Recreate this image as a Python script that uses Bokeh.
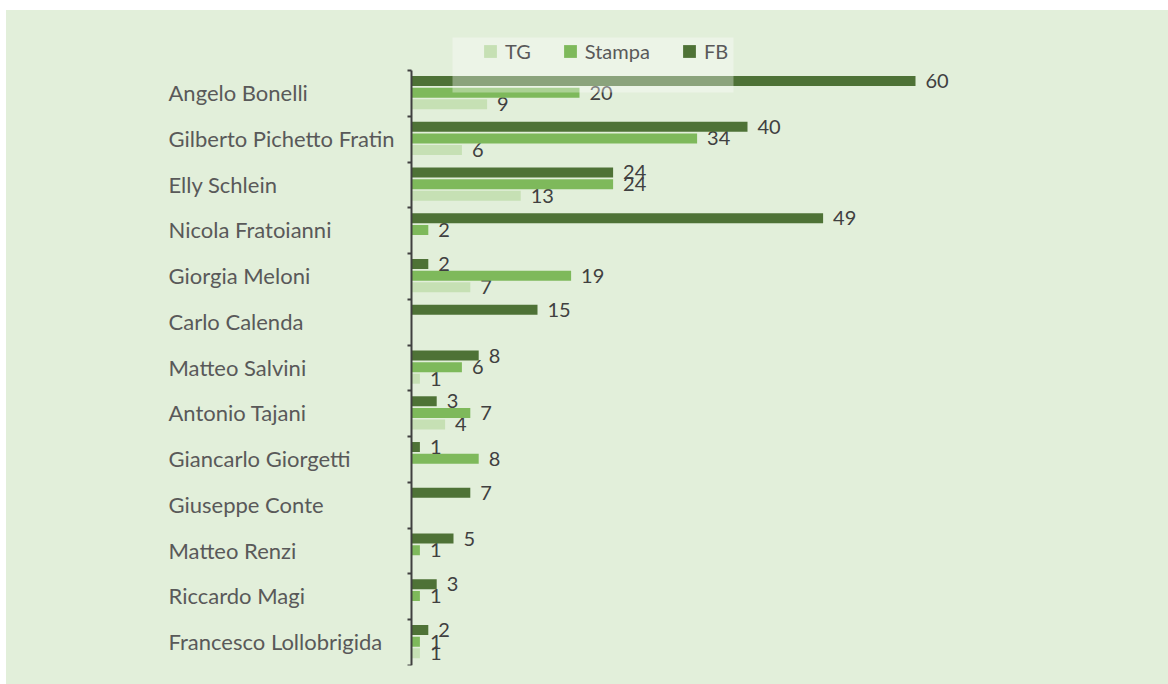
from bokeh.plotting import figure
from bokeh.models import ColumnDataSource, Range1d, FixedTicker, Legend, LegendItem, BoxAnnotation
from bokeh.transform import dodge
from bokeh.core.properties import value
from bokeh.embed import file_html
from bokeh.resources import INLINE

names = ["Angelo Bonelli", "Gilberto Pichetto Fratin", "Elly Schlein", "Nicola Fratoianni",
         "Giorgia Meloni", "Carlo Calenda", "Matteo Salvini", "Antonio Tajani",
         "Giancarlo Giorgetti", "Giuseppe Conte", "Matteo Renzi", "Riccardo Magi",
         "Francesco Lollobrigida"]
fb = [60, 40, 24, 49, 2, 15, 8, 3, 1, 7, 5, 3, 2]
stampa = [20, 34, 24, 2, 19, 0, 6, 7, 8, 0, 1, 1, 1]
tg = [9, 6, 13, 0, 7, 0, 1, 4, 0, 0, 0, 0, 1]

FONT = "Lato"
BG = "#E2EFDA"
COLORS = {"TG": "#C6E0B4", "Stampa": "#7EB95B", "FB": "#4E7236"}
OFFS = {"FB": -0.275, "Stampa": -0.02, "TG": 0.232}

n = len(names)
pos = [i + 0.5 for i in range(n)]
PX = 8.4  # pixels per unit on x
LEFT = 150  # frame left in figure px
AXIS_X = 405  # x=0 in figure px

p = figure(width=1162, height=674, output_backend="svg", toolbar_location=None,
           x_range=Range1d(-(AXIS_X - LEFT) / PX, 80), y_range=Range1d(n, -0.9),
           min_border_left=LEFT, min_border_right=85, min_border_top=19, min_border_bottom=19)
p.margin = (10, 0, 0, 6)
p.styles = {"background-color": BG}
p.background_fill_color = BG
p.border_fill_color = BG
p.outline_line_color = None
p.grid.visible = False
p.xaxis.visible = False

series = [("TG", tg), ("Stampa", stampa), ("FB", fb)]
renderers = {}
for key, vals in series:
    src = ColumnDataSource(dict(pos=pos, v=vals))
    r = p.hbar(y=dodge("pos", OFFS[key], range=p.y_range), right="v", left=0, height=0.218,
               source=src, fill_color=COLORS[key], line_color=None)
    renderers[key] = r
    lab = ColumnDataSource(dict(pos=[pp for pp, vv in zip(pos, vals) if vv != 0],
                                v=[vv for vv in vals if vv != 0],
                                t=[str(vv) for vv in vals if vv != 0]))
    p.text(x="v", y=dodge("pos", OFFS[key], range=p.y_range), text="t", source=lab,
           x_offset=10, y_offset=0, text_align="left", text_baseline="middle",
           text_font=value(FONT), text_font_size="20px", text_color="#404040")

# category labels, left aligned
cat = ColumnDataSource(dict(pos=pos, name=names))
p.text(x=0, y="pos", text="name", source=cat, x_offset=-(AXIS_X - 162), y_offset=-1,
       text_align="left", text_baseline="middle",
       text_font=value(FONT), text_font_size="22px", text_color="#595959")

ax = p.yaxis[0]
ax.fixed_location = 0
ax.bounds = (0, n)
ax.ticker = FixedTicker(ticks=pos, minor_ticks=list(range(n + 1)))
ax.major_label_overrides = {pp: "" for pp in pos}
ax.major_label_text_font_size = "1px"
ax.major_tick_out = 0
ax.major_tick_in = 0
ax.minor_tick_out = 4
ax.minor_tick_in = 0
ax.minor_tick_line_color = "#404040"
ax.minor_tick_line_width = 2
ax.axis_line_color = "#404040"
ax.axis_line_width = 2

box = BoxAnnotation(left=296, right=577, top=628, bottom=573,
                    left_units="screen", right_units="screen", top_units="screen", bottom_units="screen",
                    fill_color="white", fill_alpha=0.35, line_color=None)
p.add_layout(box)

legend = Legend(items=[LegendItem(label=k, renderers=[renderers[k]]) for k, _ in series],
                orientation="horizontal", location=(326, 602),
                background_fill_alpha=0, border_line_color=None,
                label_text_font=FONT, label_text_font_size="20px", label_text_color="#595959",
                glyph_width=16, glyph_height=16, spacing=31, label_standoff=7, padding=0,
                margin=0)
p.add_layout(legend, "center")

open("out.html", "w").write(file_html(p, INLINE))
